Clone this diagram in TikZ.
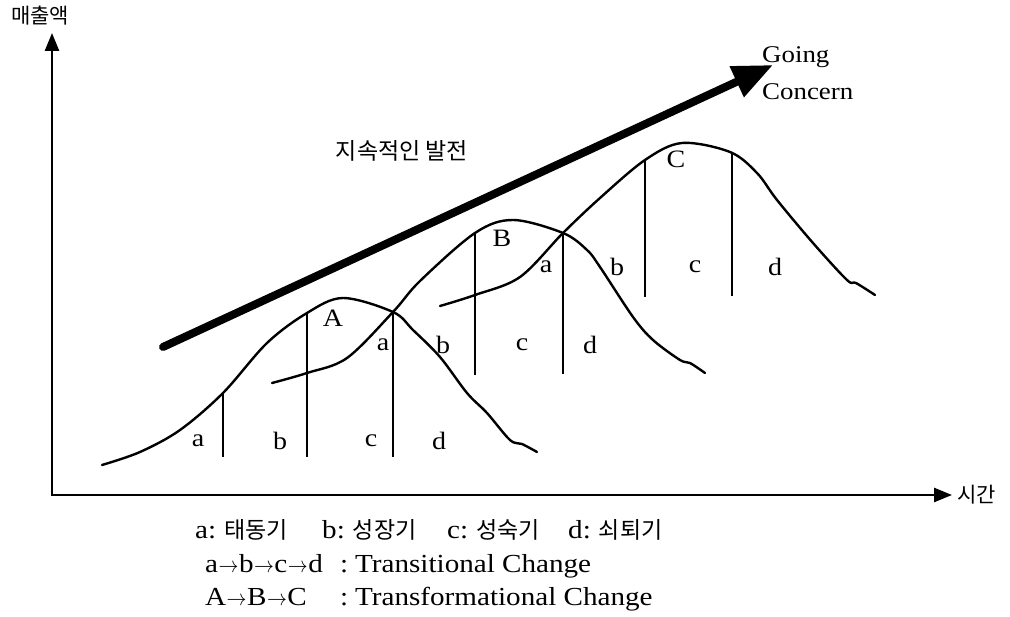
\documentclass[tikz,border=0pt]{standalone}
\usepackage{fontspec}
\usepackage{graphicx}
\usetikzlibrary{arrows.meta}
\setmainfont{Liberation Serif}
\newfontfamily\kr{Noto Sans CJK KR}
\newfontfamily\lat{Liberation Serif}[FakeStretch=1.12]
\newcommand\sarrow{\kern0.5pt\scalebox{0.8}[0.9]{$\rightarrow$}\kern0.5pt}
\newcommand\legkr[1]{{\fontsize{23}{26}\selectfont\kr #1}}

\begin{document}
\begin{tikzpicture}[x=1pt,y=-1pt,
  axis/.style={line width=2.6pt,line cap=rect,-{Triangle[length=18pt,width=14pt]}},
  curve/.style={line width=2.4pt,line join=round,line cap=round},
  divider/.style={line width=1.1pt},
  lbl/.style={font=\fontsize{25}{28}\selectfont\lat,inner sep=0pt},
  krtext/.style={font=\fontsize{21}{24}\selectfont\kr,inner sep=0pt},
  legend/.style={font=\fontsize{26}{30}\selectfont\lat,inner sep=0pt,anchor=base west},
  ]
\useasboundingbox (0,0) rectangle (1010,617);

% axes
\coordinate (origin) at (52,495);
\coordinate (ytip) at (52,33);
\coordinate (xtip) at (952,495);
\draw[axis] (origin) -- (ytip);
\draw[axis] (origin) -- (xtip);
\node[krtext] (ylab) at (40,16) {매출액};
\node[krtext,anchor=west] (xlab) at (957,495) {시간};

% big trend arrow
\coordinate (tail) at (163,347);
\coordinate (tip) at (773,65);
\draw[line width=8pt,line cap=round,-{Triangle[length=40pt,width=32pt]}] (tail) -- (tip);
\node[krtext,font=\fontsize{23}{26}\selectfont\kr] (trend) at (402,151) {지속적인 발전};
\node[font=\fontsize{24}{37}\selectfont\lat,anchor=base west,inner sep=0pt,align=left] (gc) at (762,100) {Going\\Concern};

% curve A
\draw[curve] plot[smooth,tension=0.55] coordinates{
 (102,465) (140,452) (180,430) (223,393) (267,343) (307,313) (343,298)
 (393,312) (413,330) (440,357) (467,393) (487,413) (510,440) (522,444) (537,452)};
% curve B
\draw[curve] plot[smooth,tension=0.55] coordinates{
 (272,383) (307,373) (347,358) (393,312) (420,281) (475,233) (513,220)
 (563,233) (587,250) (600,267) (633,317) (653,340) (680,360) (690,363) (705,373)};
% curve C
\draw[curve] plot[smooth,tension=0.55] coordinates{
 (440,306) (475,295) (520,277) (563,233) (600,198) (645,160) (682,143)
 (730,152) (757,173) (777,200) (813,243) (847,280) (856,283) (875,295)};

% dividers
\draw[divider] (223,394) -- (223,457);
\draw[divider] (307,313) -- (307,457);
\draw[divider] (393,312) -- (393,457);
\draw[divider] (475,233) -- (475,375);
\draw[divider] (563,233) -- (563,374);
\draw[divider] (645,160) -- (645,297);
\draw[divider] (732,152) -- (732,296);

% labels A
\node[lbl] (Aa) at (198,441) {a};
\node[lbl] (Ab) at (280,441) {b};
\node[lbl] (Ac) at (371,441) {c};
\node[lbl] (Ad) at (439,441) {d};
\node[lbl] (A) at (333,318) {A};
% labels B
\node[lbl] (Ba) at (383,345) {a};
\node[lbl] (Bb) at (443,345) {b};
\node[lbl] (Bc) at (522,345) {c};
\node[lbl] (Bd) at (590,345) {d};
\node[lbl] (B) at (502,238) {B};
% labels C
\node[lbl] (Ca) at (546,267) {a};
\node[lbl] (Cb) at (617,267) {b};
\node[lbl] (Cc) at (695,267) {c};
\node[lbl] (Cd) at (775,267) {d};
\node[lbl] (C) at (676,159) {C};

% legend
\node[legend] (l1a) at (195,538) {a:\kern8pt\legkr{태동기}};
\node[legend] (l1b) at (322,538) {b:\kern8pt\legkr{성장기}};
\node[legend] (l1c) at (447,538) {c:\kern8pt\legkr{성숙기}};
\node[legend] (l1d) at (568,538) {d:\kern8pt\legkr{쇠퇴기}};
\node[legend] (l2) at (205,572) {a\sarrow b\sarrow c\sarrow d};
\node[legend] (l2c) at (340,572) {:};
\node[legend] (l2t) at (355,572) {Transitional Change};
\node[legend] (l3) at (205,605) {A\sarrow B\sarrow C};
\node[legend] (l3c) at (340,605) {:};
\node[legend] (l3t) at (355,605) {Transformational Change};
\end{tikzpicture}
\end{document}
